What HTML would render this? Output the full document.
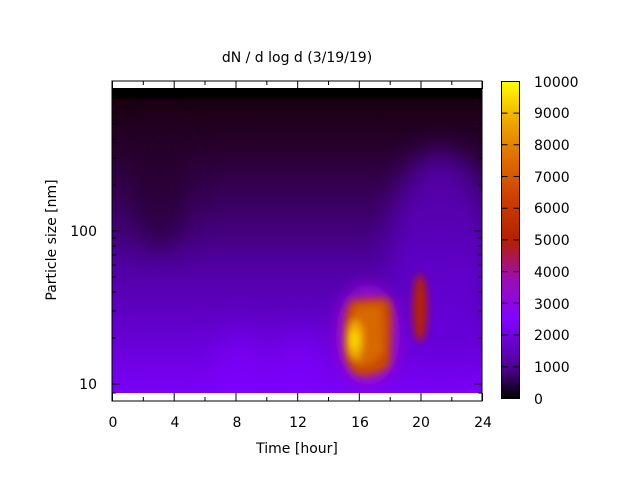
<!DOCTYPE html>
<html><head><style>body{margin:0;background:#fff}svg{display:block}</style></head><body>
<svg width="640" height="480" xmlns="http://www.w3.org/2000/svg" font-family="DejaVu Sans, Liberation Sans, sans-serif" font-size="14">
<defs>
<linearGradient id="bg" x1="0" y1="0" x2="0" y2="1">
<stop offset="0" stop-color="#000000"/>
<stop offset="0.03" stop-color="#000000"/>
<stop offset="0.04" stop-color="#1a0010"/>
<stop offset="0.2" stop-color="#28002e"/>
<stop offset="0.4" stop-color="#3c0066"/>
<stop offset="0.6" stop-color="#5200a6"/>
<stop offset="0.8" stop-color="#6400d0"/>
<stop offset="1" stop-color="#7a00f8"/>
</linearGradient>
<linearGradient id="cb" x1="0" y1="1" x2="0" y2="0">
<stop offset="0" stop-color="#000000"/>
<stop offset="0.1" stop-color="#500096"/>
<stop offset="0.25" stop-color="#8004ff"/>
<stop offset="0.375" stop-color="#9c0db5"/>
<stop offset="0.5" stop-color="#b42000"/>
<stop offset="0.625" stop-color="#c93e00"/>
<stop offset="0.75" stop-color="#dd6b00"/>
<stop offset="0.875" stop-color="#eea800"/>
<stop offset="1" stop-color="#ffff00"/>
</linearGradient>
<filter id="b" x="-50%" y="-50%" width="200%" height="200%"><feGaussianBlur stdDeviation="14"/></filter>
<filter id="b2" x="-50%" y="-50%" width="200%" height="200%"><feGaussianBlur stdDeviation="4"/></filter>
<filter id="b3" x="-50%" y="-50%" width="200%" height="200%"><feGaussianBlur stdDeviation="8"/></filter>
<clipPath id="c"><rect x="112" y="88" width="370" height="305"/></clipPath>
</defs>
<rect x="112" y="88" width="370" height="305" fill="url(#bg)"/>
<g clip-path="url(#c)">
<g filter="url(#b)" opacity="0.6">
<ellipse cx="440" cy="250" rx="50" ry="100" fill="#6800e0"/>
<ellipse cx="240" cy="370" rx="25" ry="40" fill="#8000ff"/>
<ellipse cx="300" cy="370" rx="25" ry="40" fill="#8000ff"/>
<ellipse cx="160" cy="180" rx="30" ry="70" fill="#240028"/>
</g>
<rect x="112" y="88" width="370" height="9" fill="#000"/>
<g filter="url(#b3)"><ellipse cx="368" cy="335" rx="32" ry="50" fill="#9a10d0"/></g>
<g filter="url(#b2)">
<path d="M352 300 L386 298 Q392 300 392 320 L390 365 Q380 376 360 376 Q345 372 344 345 Q344 305 352 300Z" fill="#c84800"/>
<path d="M356 306 L382 305 L384 350 Q375 365 358 366 Q348 350 350 325Z" fill="#d86800"/>
<ellipse cx="355" cy="340" rx="8" ry="20" fill="#f0b000"/>
<ellipse cx="354" cy="340" rx="4" ry="9" fill="#ffe000"/>
<ellipse cx="420" cy="308" rx="7" ry="34" fill="#b82400"/>
</g>
</g>
<rect x="112" y="81" width="370" height="320" fill="none" stroke="#000" stroke-width="1"/>
<g stroke="#000" stroke-width="1">
<path d="M112.5 401v-8M174.2 401v-8M236 401v-8M297.7 401v-8M359.3 401v-8M421 401v-8M482.5 401v-8"/>
<path d="M112.5 81v8M174.2 81v8M236 81v8M297.7 81v8M359.3 81v8M421 81v8M482.5 81v8"/>
<path d="M143.3 401v-4M205 401v-4M266.8 401v-4M328.5 401v-4M390.2 401v-4M451.8 401v-4"/>
<path d="M143.3 81v4M205 81v4M266.8 81v4M328.5 81v4M390.2 81v4M451.8 81v4"/>
<path d="M112 384h8M112 231h8M482 384h-8M482 231h-8"/>
<path d="M112 393h4M112 338h4M112 311h4M112 292h4M112 277h4M112 265h4M112 255h4M112 246h4M112 238h4M112 185h4M112 158h4M112 139h4M112 124h4M112 112h4M112 102h4M112 93h4"/>
<path d="M482 393h-4M482 338h-4M482 311h-4M482 292h-4M482 277h-4M482 265h-4M482 255h-4M482 246h-4M482 238h-4M482 185h-4M482 158h-4M482 139h-4M482 124h-4M482 112h-4M482 102h-4M482 93h-4"/>
</g>
<g text-anchor="middle" fill="#000">
<text x="113" y="427">0</text><text x="175" y="427">4</text><text x="237" y="427">8</text><text x="298" y="427">12</text><text x="360" y="427">16</text><text x="421" y="427">20</text><text x="483" y="427">24</text>
<text x="297" y="453">Time [hour]</text>
<text x="297" y="62">dN / d log d (3/19/19)</text>
<text transform="translate(56,240) rotate(-90)">Particle size [nm]</text>
</g>
<g text-anchor="end"><text x="97" y="389">10</text><text x="97" y="236">100</text></g>
<rect x="501.5" y="81.5" width="18" height="317" fill="url(#cb)" stroke="#000"/>
<g stroke="#000"><path d="M501.5 398.5h6M501.5 366.8h6M501.5 335h6M501.5 303.3h6M501.5 271.6h6M501.5 239.9h6M501.5 208.2h6M501.5 176.5h6M501.5 144.8h6M501.5 113.1h6M501.5 81.5h6M519.5 398.5h-6M519.5 366.8h-6M519.5 335h-6M519.5 303.3h-6M519.5 271.6h-6M519.5 239.9h-6M519.5 208.2h-6M519.5 176.5h-6M519.5 144.8h-6M519.5 113.1h-6M519.5 81.5h-6"/></g>
<g text-anchor="start">
<text x="534" y="404">0</text><text x="534" y="372">1000</text><text x="534" y="340">2000</text><text x="534" y="309">3000</text><text x="534" y="277">4000</text><text x="534" y="245">5000</text><text x="534" y="213">6000</text><text x="534" y="182">7000</text><text x="534" y="150">8000</text><text x="534" y="118">9000</text><text x="534" y="87">10000</text>
</g>
</svg>
</body></html>
